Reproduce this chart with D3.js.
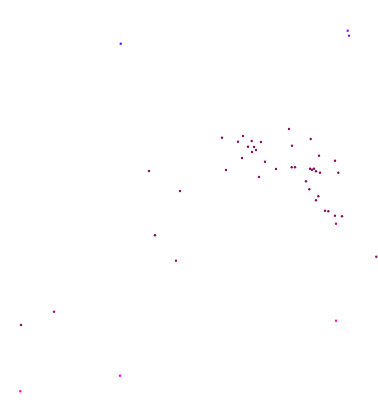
<!DOCTYPE html>
<html>
<head>
<meta charset="utf-8">
<script src="https://cdn.jsdelivr.net/npm/d3@7"></script>
<style>
  html, body { margin: 0; padding: 0; background: #fff; }
</style>
</head>
<body>
<div id="chart"></div>
<script>
// point positions
const xs = [120.7, 347.7, 349, 149, 180, 155, 176, 376.3, 54, 21, 120, 20.3, 336,
  289, 310.7, 222, 243, 238, 251.7, 261, 248, 254, 256, 252, 292, 319, 242, 265, 335,
  226, 259, 276, 291.7, 295, 310, 312, 314, 316, 320, 338.3, 306, 309.3, 318.3, 316,
  325, 328.3, 335, 342, 336];
const ys = [43.7, 30.7, 35.7, 171, 191, 235.3, 260.7, 256.7, 311.7, 325, 375.7, 391.3, 320.7,
  129, 139, 137.7, 136, 141.7, 141, 142, 146.7, 147, 150, 152, 145.7, 155.7, 158, 161.7, 160.7,
  170, 177, 169, 167.3, 167.3, 168.7, 169.7, 168.7, 171.3, 172.7, 172.7, 181.3, 189.3, 196.3, 200.3,
  210.7, 211.3, 215.7, 216.3, 223.7];
// colour group of each point
const groups = ["blue", "purple", "purple", "maroon", "maroon", "maroon", "red", "maroon", "rose", "maroon", "magenta", "pink", "pink",
  "maroon", "maroon", "maroon", "maroon", "maroon", "maroon", "maroon", "maroon", "maroon", "maroon", "maroon", "maroon", "maroon", "maroon", "maroon", "maroon",
  "maroon", "maroon", "maroon", "maroon", "maroon", "maroon", "maroon", "maroon", "maroon", "maroon", "maroon", "maroon", "maroon", "maroon", "maroon",
  "maroon", "maroon", "maroon", "maroon", "rose"];
const groupNames = ["blue", "purple", "maroon", "red", "rose", "magenta", "pink"];
const groupColors = ["#5a14ff", "#a012f0", "#8e0a5c", "#a0104f", "#c8007e", "#ff00ff", "#ff14b0"];

const width = 378, height = 406;

const x = d3.scaleLinear().domain([0, 378]).range([0, width]);
const y = d3.scaleLinear().domain([0, 406]).range([0, height]);
const color = d3.scaleOrdinal().domain(groupNames).range(groupColors);

const points = xs.map((v, i) => ({x: v, y: ys[i], g: groups[i]}));

const svg = d3.select("#chart").append("svg")
  .attr("width", width)
  .attr("height", height);

svg.selectAll("circle")
  .data(points)
  .join("circle")
  .attr("cx", d => x(d.x))
  .attr("cy", d => y(d.y))
  .attr("r", 1.2)
  .attr("fill", d => color(d.g));
</script>
</body>
</html>
